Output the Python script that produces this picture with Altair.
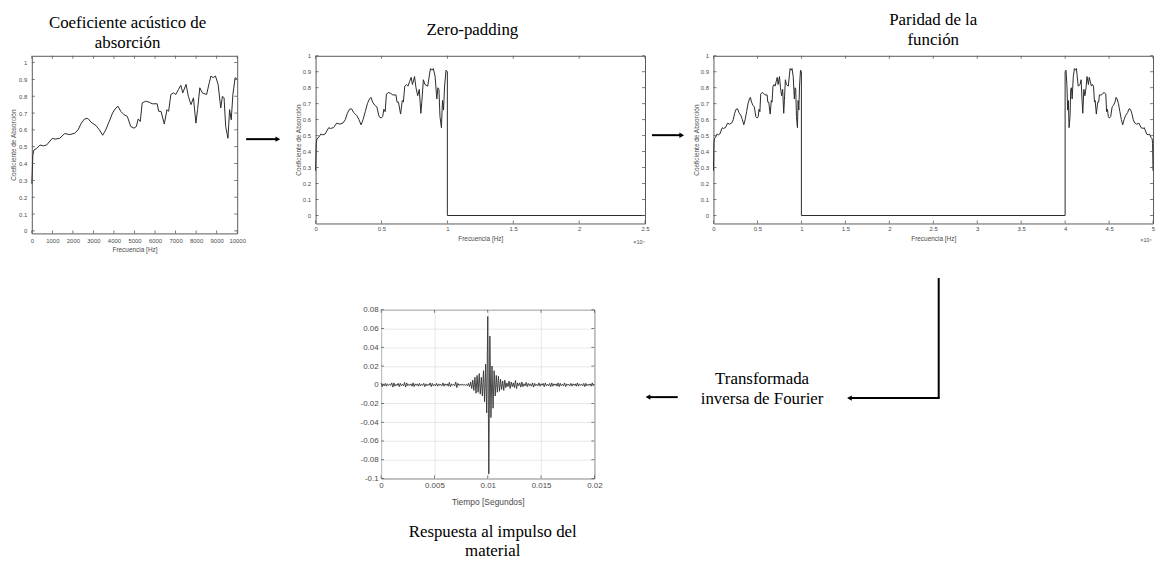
import altair as alt
import pandas as pd

# ---------------- data ----------------
freq_hz = [0, 50, 100, 240, 400, 560, 720, 1000, 1120, 1360, 1600, 1850, 2090, 2250,
           2410, 2570, 2730, 2890, 3130, 3290, 3450, 3600, 3770, 3930, 4090, 4200,
           4330, 4490, 4650, 4815, 4975, 5090, 5180, 5280, 5375, 5540, 5700, 5860,
           6100, 6180, 6290, 6450, 6580, 6660, 6770, 6900, 7010, 7140, 7255, 7350,
           7510, 7620, 7750, 7870, 7990, 8070, 8180, 8300, 8510, 8640, 8720, 8830,
           8940, 9070, 9200, 9280, 9360, 9440, 9550, 9630, 9710, 9790, 9900, 10000]
absorption = [0.28, 0.45, 0.48, 0.49, 0.51, 0.505, 0.51, 0.55, 0.545, 0.55, 0.578, 0.572,
              0.58, 0.60, 0.64, 0.665, 0.668, 0.645, 0.625, 0.60, 0.568, 0.60, 0.65, 0.70,
              0.73, 0.74, 0.71, 0.69, 0.68, 0.62, 0.61, 0.62, 0.665, 0.65, 0.76, 0.77,
              0.765, 0.755, 0.755, 0.71, 0.71, 0.635, 0.72, 0.71, 0.81, 0.82, 0.81, 0.84,
              0.865, 0.82, 0.87, 0.80, 0.75, 0.79, 0.64, 0.72, 0.85, 0.82, 0.81, 0.88,
              0.92, 0.91, 0.92, 0.87, 0.73, 0.80, 0.79, 0.62, 0.55, 0.72, 0.66, 0.81,
              0.91, 0.90]
pad_end_hz = 25000
mirror_start_hz = 40000
mirror_end_hz = 50000

imp_step_s = 0.0001
impulse = [
    0.002, -0.002, 0.001, -0.001, 0.0015, -0.0015, 0.001, -0.0005, 0.0005, -0.0005,
    0.002, -0.0025, 0.002, -0.0015, 0.0005, -0.0005, 0.0015, -0.002, 0.0015, -0.001,
    0.0005, -0.001, 0.0025, -0.0025, 0.002, -0.001, 0.0005, -0.0005, 0.001, -0.0015,
    0.002, -0.002, 0.001, -0.0005, 0.001, -0.0015, 0.0015, -0.001, 0.0005, -0.0005,
    0.0015, -0.002, 0.001, -0.001, 0.0005, -0.0005, 0.002, -0.002, 0.0015, -0.001,
    0.0005, -0.001, 0.0015, -0.0015, 0.001, -0.0005, 0.0005, -0.001, 0.002, -0.0015,
    0.001, -0.0005, 0.001, -0.0015, 0.0025, -0.002, 0.001, -0.0005, 0.0005, -0.001,
    0.003, -0.003, 0.0015, -0.0005, 0.0003, -0.0003, 0.0005, -0.0003, 0.0003, -0.0005,
    0.0005, -0.001, 0.0015, -0.002, 0.003, -0.004, 0.005, -0.006, 0.008, -0.009,
    0.01, -0.008, 0.012, -0.01, 0.008, -0.012, 0.015, -0.018, 0.022, -0.03,
    0.073, -0.095, 0.052, -0.035, 0.02, -0.025, 0.015, -0.012, 0.01, -0.008,
    0.009, -0.007, 0.006, -0.005, 0.004, -0.006, 0.005, -0.003, 0.002, -0.002,
    0.004, -0.004, 0.003, -0.002, 0.002, -0.003, 0.0045, -0.004, 0.002, -0.001,
    0.002, -0.0025, 0.003, -0.002, 0.001, -0.001, 0.0025, -0.002, 0.0015, -0.001,
    0.001, -0.0015, 0.002, -0.0025, 0.0015, -0.001, 0.0005, -0.001, 0.002, -0.0015,
    0.001, -0.0005, 0.0015, -0.002, 0.002, -0.001, 0.0005, -0.001, 0.0015, -0.002,
    0.002, -0.0015, 0.001, -0.0005, 0.001, -0.0015, 0.002, -0.002, 0.0015, -0.001,
    0.0005, -0.001, 0.002, -0.002, 0.001, -0.0005, 0.0005, -0.001, 0.0015, -0.0015,
    0.001, -0.0005, 0.001, -0.0015, 0.002, -0.0015, 0.001, -0.0005, 0.0005, -0.001,
    0.0015, -0.002, 0.0015, -0.001, 0.0005, -0.0005, 0.001, -0.0015, 0.002, -0.001,
    0.0005]

p1_x_ticks = [0, 1000, 2000, 3000, 4000, 5000, 6000, 7000, 8000, 9000, 10000]
abs_ticks = [0, 0.1, 0.2, 0.3, 0.4, 0.5, 0.6, 0.7, 0.8, 0.9, 1]
p2_x_ticks = [0, 5000, 10000, 15000, 20000, 25000]
p3_x_ticks = [0, 5000, 10000, 15000, 20000, 25000, 30000, 35000, 40000, 45000, 50000]
imp_x_ticks = [0, 0.005, 0.01, 0.015, 0.02]
imp_y_ticks = [-0.1, -0.08, -0.06, -0.04, -0.02, 0, 0.02, 0.04, 0.06, 0.08]

title_p1 = ["Coeficiente acústico de", "absorción"]
title_p2 = "Zero-padding"
title_p3 = ["Paridad de la", "función"]
title_p4 = ["Respuesta al impulso del", "material"]
x_title_freq = "Frecuencia [Hz]"
y_title_abs = "Coeficiente de Absorción"
x_title_time = "Tiempo [Segundos]"
exp_label = ["×10⁴"]
fourier_line1 = ["Transformada"]
fourier_line2 = ["inversa de Fourier"]

# ---------------- tables ----------------
n = len(freq_hz)
df1 = pd.DataFrame({"f": freq_hz, "a": absorption, "i": list(range(n))})
df2 = pd.DataFrame({"f": freq_hz + [freq_hz[-1], pad_end_hz],
                    "a": absorption + [0, 0]})
df2["i"] = range(len(df2))
mir_f = [mirror_end_hz - f for f in reversed(freq_hz)]
df3 = pd.DataFrame({"f": freq_hz + [freq_hz[-1], mirror_start_hz] + mir_f,
                    "a": absorption + [0, 0] + list(reversed(absorption))})
df3["i"] = range(len(df3))
df4 = pd.DataFrame({"f": [round(k * imp_step_s, 6) for k in range(len(impulse))],
                    "a": impulse})

# ---------------- style ----------------
SANS = "Liberation Sans"
SERIF = "Liberation Serif"
LINE = "#2a2a2a"
FRAME = "#5a5a5a"
LAB = "#4a4a4a"


def ax(values, expr, size, pad, title=None, tpad=2, grid=False):
    kw = dict(values=values, labelExpr=expr, labelFontSize=size, labelFont=SANS,
              labelColor=LAB, labelPadding=pad, labelFlush=False, labelOverlap=False,
              ticks=False, domain=False, grid=grid, gridColor="#e2e2e2", gridWidth=0.8)
    if title is not None:
        kw.update(title=title, titleFont=SANS, titleFontSize=size + 0.5,
                  titleFontWeight="normal", titleColor=LAB, titlePadding=tpad)
    else:
        kw.update(title=None)
    return alt.Axis(**kw)


def ttl(text, offset, dx=0, orient="top"):
    return alt.TitleParams(text=text, font=SERIF, fontSize=17, fontWeight="normal",
                           color="black", lineHeight=20, offset=offset, anchor="middle",
                           frame="group", dx=dx, orient=orient)


def panel(df, xdom, ydom, xax, yax, xt, yt, w, h, line_color=LINE, line_w=1.0,
          extra=(), use_order=True):
    """A framed MATLAB-like panel: the curve plus inward ticks on all four sides."""
    xs = alt.Scale(domain=xdom, nice=False, zero=False)
    ys = alt.Scale(domain=ydom, nice=False, zero=False)
    enc = dict(x=alt.X("f:Q", scale=xs, axis=xax), y=alt.Y("a:Q", scale=ys, axis=yax))
    if use_order:
        enc["order"] = "i:Q"
    line = alt.Chart(df).mark_line(color=line_color, strokeWidth=line_w).encode(**enc)
    dxt = pd.DataFrame({"f": xt})
    dyt = pd.DataFrame({"a": yt})
    kw = dict(color=FRAME, thickness=0.8, size=3, opacity=1)
    ticks = [
        alt.Chart(dxt).mark_tick(**kw).encode(x=alt.X("f:Q", axis=xax), y=alt.value(h - 1.5)),
        alt.Chart(dxt).mark_tick(**kw).encode(x=alt.X("f:Q", axis=xax), y=alt.value(1.5)),
        alt.Chart(dyt).mark_tick(**kw).encode(y=alt.Y("a:Q", axis=yax), x=alt.value(1.5)),
        alt.Chart(dyt).mark_tick(**kw).encode(y=alt.Y("a:Q", axis=yax), x=alt.value(w - 1.5)),
    ]
    return alt.layer(line, *ticks, *extra)


frame = alt.ViewBackground(stroke=FRAME, strokeWidth=1)
exp_df = pd.DataFrame({"s": exp_label})

# ---------------- panel 1 ----------------
W1, H1 = 207, 179
p1 = panel(df1, [0, 10000], [-0.015, 1.04],
           ax(p1_x_ticks, "'' + datum.value", 6, 4, x_title_freq, 3),
           ax(abs_ticks, "'' + datum.value", 6, 5, y_title_abs, 2),
           p1_x_ticks, abs_ticks, W1, H1).properties(
    width=W1, height=H1, title=ttl(title_p1, 4, -7), view=frame)

# ---------------- panel 2 ----------------
W2, H2 = 332, 169
exp2 = alt.Chart(exp_df).mark_text(font=SANS, fontSize=5.5, color=LAB).encode(
    text="s:N", x=alt.value(W2 - 6), y=alt.value(H2 + 19))
p2 = panel(df2, [0, pad_end_hz], [-0.05, 1.0],
           ax(p2_x_ticks, "'' + datum.value / 10000", 6, 2, x_title_freq, 4),
           ax(abs_ticks, "'' + datum.value", 6, 5, y_title_abs, 1),
           p2_x_ticks, abs_ticks, W2, H2, extra=[exp2]).properties(
    width=W2, height=H2, title=ttl(title_p2, 14, -8), view=frame)

# ---------------- panel 3 ----------------
W3, H3 = 443, 169
exp3 = alt.Chart(exp_df).mark_text(font=SANS, fontSize=5.5, color=LAB).encode(
    text="s:N", x=alt.value(W3 - 7), y=alt.value(H3 + 17))
p3 = panel(df3, [0, mirror_end_hz], [-0.05, 1.0],
           ax(p3_x_ticks, "'' + datum.value / 10000", 6, 2, x_title_freq, 4),
           ax(abs_ticks, "'' + datum.value", 6, 5, y_title_abs, 1),
           p3_x_ticks, abs_ticks, W3, H3, extra=[exp3]).properties(
    width=W3, height=H3, title=ttl(title_p3, 4, 0), view=frame)

# ---------------- arrows between panels ----------------
one = pd.DataFrame({"k": [0]})


def h_arrow(y, x1, x2, right=True):
    base = alt.Chart(one)
    if right:
        line = base.mark_rule(color="black", strokeWidth=2).encode(
            x=alt.value(x1), x2=alt.value(x2 - 4), y=alt.value(y))
        head = base.mark_point(shape="triangle-right", filled=True, color="black",
                               opacity=1, size=30).encode(x=alt.value(x2 - 3), y=alt.value(y))
    else:
        line = base.mark_rule(color="black", strokeWidth=2).encode(
            x=alt.value(x1 + 4), x2=alt.value(x2), y=alt.value(y))
        head = base.mark_point(shape="triangle-left", filled=True, color="black",
                               opacity=1, size=30).encode(x=alt.value(x1 + 3), y=alt.value(y))
    return [line, head]


a1 = alt.layer(*h_arrow(84, 9, 44)).properties(width=79, height=169)
a2 = alt.layer(*h_arrow(80, 7, 40)).properties(width=69, height=169)

row1 = alt.hconcat(p1, a1, p2, a2, p3, spacing=0, bounds="flush")

# ---------------- panel 4 ----------------
W4, H4 = 215, 170
p4 = panel(df4, [0, 0.02], [-0.1, 0.08],
           ax(imp_x_ticks, "'' + datum.value", 8, 3, x_title_time, 8, grid=True),
           ax(imp_y_ticks, "'' + datum.value", 8, 3, None, grid=True),
           imp_x_ticks, imp_y_ticks, W4, H4, line_color="#333333", line_w=0.9,
           use_order=False).properties(
    width=W4, height=H4, title=ttl(title_p4, 18, 5, orient="bottom"), view=frame)

spacer = alt.Chart(one).mark_point(opacity=0).encode(
    x=alt.value(0), y=alt.value(0)).properties(width=352, height=H4)

# annotation panel: Fourier text and connector arrows
base = alt.Chart(one)
ft1 = alt.Chart(pd.DataFrame({"s": fourier_line1})).mark_text(
    font=SERIF, fontSize=17, color="black", baseline="middle").encode(
    text="s:N", x=alt.value(169), y=alt.value(70))
ft2 = alt.Chart(pd.DataFrame({"s": fourier_line2})).mark_text(
    font=SERIF, fontSize=17, color="black", baseline="middle").encode(
    text="s:N", x=alt.value(169), y=alt.value(90))
left_arrow = h_arrow(88, 51, 84, right=False)
conn_v = base.mark_rule(color="black", strokeWidth=2).encode(
    x=alt.value(347), y=alt.value(-32), y2=alt.value(89))
conn_h = base.mark_rule(color="black", strokeWidth=2).encode(
    x=alt.value(258), x2=alt.value(348), y=alt.value(89))
conn_head = base.mark_point(shape="triangle-left", filled=True, color="black",
                            opacity=1, size=30).encode(x=alt.value(257), y=alt.value(89))
annot = alt.layer(ft1, ft2, *left_arrow, conn_v, conn_h, conn_head).properties(
    width=366, height=H4)

row2 = alt.hconcat(spacer, p4, annot, spacing=0, bounds="flush")

chart = alt.vconcat(row1, row2, spacing=23).properties(
    padding={"left": 2, "top": 0, "right": 0, "bottom": 0}
).configure(font=SANS).configure_view(stroke="transparent")

chart.save("out.html", embed_options={"renderer": "svg", "actions": False})
